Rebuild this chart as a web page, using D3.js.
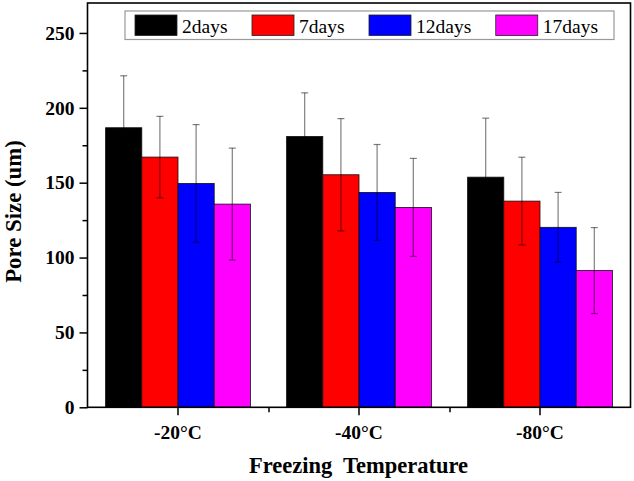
<!DOCTYPE html>
<html><head><meta charset="utf-8">
<script src="https://cdn.jsdelivr.net/npm/d3@7"></script>
<style>html,body{margin:0;padding:0;background:#fff;}svg{display:block;}</style>
</head><body>
<svg id="chart" width="634" height="481"></svg>
<script>
const categories = ["-20\u00B0C", "-40\u00B0C", "-80\u00B0C"];
const seriesNames = ["2days", "7days", "12days", "17days"];
const means2 = [186.7, 180.9, 153.7];
const sd2 = [34.7, 29.1, 39.4];
const means7 = [167.1, 155.3, 137.7];
const sd7 = [27.2, 37.5, 29.3];
const means12 = [149.5, 143.5, 120.2];
const sd12 = [39.3, 32.0, 23.3];
const means17 = [135.7, 133.5, 91.3];
const sd17 = [37.4, 32.7, 28.7];
const yTicks = [0, 50, 100, 150, 200, 250];
const yMinor = [25, 75, 125, 175, 225];
const colors = ["#000000", "#ff0000", "#0000ff", "#ff00ff"];

const means = [means2, means7, means12, means17];
const sds = [sd2, sd7, sd12, sd17];

const svg = d3.select("#chart");
const L = 87.5, R = 630.5, T = 3, B = 407.3;
const font = "'Liberation Serif','Times New Roman',serif";

const x = d3.scaleBand().domain(categories).range([L, R]).paddingInner(0).paddingOuter(0);
const xs = d3.scaleBand().domain(seriesNames).range([x.bandwidth() * 0.1, x.bandwidth() * 0.9]);
const y = d3.scaleLinear().domain([0, 270]).range([B, T]);

const rows = [];
categories.forEach((c, ci) => seriesNames.forEach((s, si) => {
  rows.push({c, s, si, v: means[si][ci], e: sds[si][ci]});
}));

// bars
svg.append("g").selectAll("rect").data(rows).join("rect")
  .attr("x", d => x(d.c) + xs(d.s))
  .attr("y", d => y(d.v))
  .attr("width", xs.bandwidth())
  .attr("height", d => y(0) - y(d.v))
  .attr("fill", d => colors[d.si])
  .attr("stroke", "#111").attr("stroke-width", 0.8);

// error bars
const eg = svg.append("g").attr("stroke", "#000").attr("stroke-opacity", 0.5).attr("stroke-width", 1.2);
rows.forEach(d => {
  const cx = x(d.c) + xs(d.s) + xs.bandwidth() / 2;
  eg.append("line").attr("x1", cx).attr("x2", cx).attr("y1", y(d.v + d.e)).attr("y2", y(d.v - d.e));
  eg.append("line").attr("x1", cx - 3.5).attr("x2", cx + 3.5).attr("y1", y(d.v + d.e)).attr("y2", y(d.v + d.e));
  eg.append("line").attr("x1", cx - 3.5).attr("x2", cx + 3.5).attr("y1", y(d.v - d.e)).attr("y2", y(d.v - d.e));
});

// y axis
svg.append("g").attr("transform", `translate(${L},0)`)
  .call(d3.axisLeft(y).tickValues(yTicks).tickSize(8).tickPadding(5).tickFormat(d3.format("d")));
svg.append("g").attr("transform", `translate(${L},0)`)
  .call(d3.axisLeft(y).tickValues(yMinor).tickSize(5).tickFormat(""));

// x axis
svg.append("g").attr("transform", `translate(0,${B})`)
  .call(d3.axisBottom(x).tickSize(8).tickPadding(10));
svg.append("g").attr("transform", `translate(0,${B})`)
  .call(d3.axisBottom(d3.scaleLinear().domain([0, 3]).range([L, R])).tickValues([1, 2]).tickSize(5).tickFormat(""));

svg.selectAll(".tick line").attr("stroke", "#000").attr("stroke-width", 1.5);
svg.selectAll(".domain").remove();
svg.selectAll(".tick text").attr("font-family", font).attr("font-weight", "bold")
  .attr("font-size", 19.5).attr("fill", "#000");

// frame
svg.append("rect").attr("x", L).attr("y", T).attr("width", R - L).attr("height", B - T)
  .attr("fill", "none").attr("stroke", "#000").attr("stroke-width", 1.6);

// axis titles
svg.append("text").attr("x", (L + R) / 2 - 0.5).attr("y", 473)
  .attr("text-anchor", "middle").attr("font-family", font).attr("font-weight", "bold")
  .attr("font-size", 22.5).style("white-space", "pre").attr("xml:space", "preserve")
  .text("Freezing  Temperature");
svg.append("text").attr("transform", "translate(13,211.5) rotate(-90)")
  .attr("text-anchor", "middle").attr("dominant-baseline", "central")
  .attr("font-family", font).attr("font-weight", "bold").attr("font-size", 22.8)
  .text("Pore Size (um)");

// legend
const lg = svg.append("g");
const box = lg.append("rect").attr("x", 125).attr("y", 11).attr("width", 483).attr("height", 28.5)
  .attr("fill", "#fff").attr("stroke", "#999").attr("stroke-width", 1.2);
let lx = 135;
seriesNames.forEach((s, i) => {
  lg.append("rect").attr("x", lx).attr("y", 15).attr("width", 42).attr("height", 20.5)
    .attr("fill", colors[i]).attr("stroke", "#222").attr("stroke-width", 0.8);
  const t = lg.append("text").attr("x", lx + 47).attr("y", 32.5)
    .attr("font-family", font).attr("font-size", 19.5).attr("fill", "#000").text(s);
  lx += 47 + t.node().getComputedTextLength() + 24.5;
});
box.attr("width", lx - 24.5 + 16 - 125);
</script>
</body></html>
